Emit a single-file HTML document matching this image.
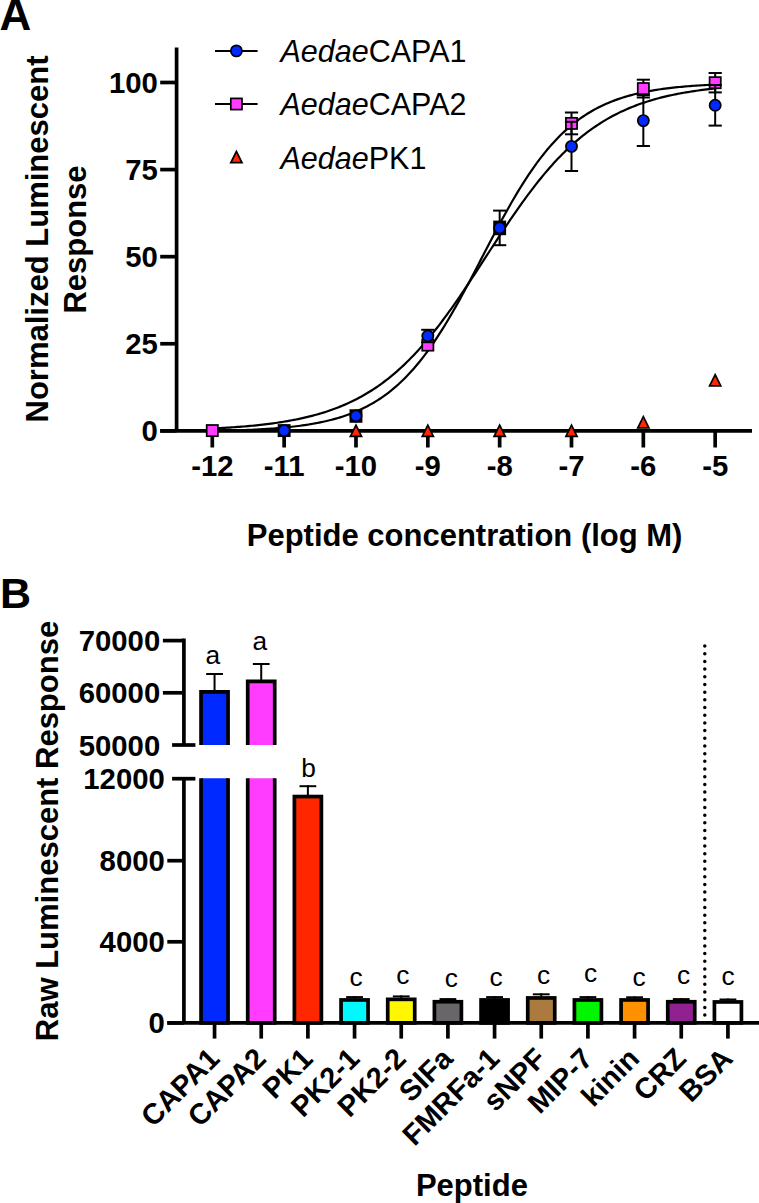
<!DOCTYPE html>
<html><head><meta charset="utf-8"><style>
html,body{margin:0;padding:0;background:#fff;}
body{width:759px;height:1203px;overflow:hidden;}
svg{display:block;}
text{font-family:"Liberation Sans",sans-serif;fill:#000;}
</style></head><body>
<svg width="759" height="1203" viewBox="0 0 759 1203">
<rect width="759" height="1203" fill="#fff"/>
<text x="-0.6" y="29.7" font-size="44" font-weight="bold">A</text>
<line x1="176.6" y1="47.6" x2="176.6" y2="430.85" stroke="#000" stroke-width="3.7"/>
<line x1="160.2" y1="430.85" x2="752" y2="430.85" stroke="#000" stroke-width="3.7"/>
<line x1="160.2" y1="82.49" x2="176.6" y2="82.49" stroke="#000" stroke-width="3.7"/>
<text x="157.8" y="92.99" font-size="29.3" font-weight="bold" text-anchor="end">100</text>
<line x1="160.2" y1="169.58" x2="176.6" y2="169.58" stroke="#000" stroke-width="3.7"/>
<text x="157.8" y="180.08" font-size="29.3" font-weight="bold" text-anchor="end">75</text>
<line x1="160.2" y1="256.67" x2="176.6" y2="256.67" stroke="#000" stroke-width="3.7"/>
<text x="157.8" y="267.17" font-size="29.3" font-weight="bold" text-anchor="end">50</text>
<line x1="160.2" y1="343.76" x2="176.6" y2="343.76" stroke="#000" stroke-width="3.7"/>
<text x="157.8" y="354.26" font-size="29.3" font-weight="bold" text-anchor="end">25</text>
<line x1="160.2" y1="430.85" x2="176.6" y2="430.85" stroke="#000" stroke-width="3.7"/>
<text x="157.8" y="441.35" font-size="29.3" font-weight="bold" text-anchor="end">0</text>
<line x1="212.30" y1="430.85" x2="212.30" y2="447.5" stroke="#000" stroke-width="3.7"/>
<text x="212.30" y="475.9" font-size="29.3" font-weight="bold" text-anchor="middle">-12</text>
<line x1="284.14" y1="430.85" x2="284.14" y2="447.5" stroke="#000" stroke-width="3.7"/>
<text x="284.14" y="475.9" font-size="29.3" font-weight="bold" text-anchor="middle">-11</text>
<line x1="355.98" y1="430.85" x2="355.98" y2="447.5" stroke="#000" stroke-width="3.7"/>
<text x="355.98" y="475.9" font-size="29.3" font-weight="bold" text-anchor="middle">-10</text>
<line x1="427.82" y1="430.85" x2="427.82" y2="447.5" stroke="#000" stroke-width="3.7"/>
<text x="427.82" y="475.9" font-size="29.3" font-weight="bold" text-anchor="middle">-9</text>
<line x1="499.66" y1="430.85" x2="499.66" y2="447.5" stroke="#000" stroke-width="3.7"/>
<text x="499.66" y="475.9" font-size="29.3" font-weight="bold" text-anchor="middle">-8</text>
<line x1="571.50" y1="430.85" x2="571.50" y2="447.5" stroke="#000" stroke-width="3.7"/>
<text x="571.50" y="475.9" font-size="29.3" font-weight="bold" text-anchor="middle">-7</text>
<line x1="643.34" y1="430.85" x2="643.34" y2="447.5" stroke="#000" stroke-width="3.7"/>
<text x="643.34" y="475.9" font-size="29.3" font-weight="bold" text-anchor="middle">-6</text>
<line x1="715.18" y1="430.85" x2="715.18" y2="447.5" stroke="#000" stroke-width="3.7"/>
<text x="715.18" y="475.9" font-size="29.3" font-weight="bold" text-anchor="middle">-5</text>
<text x="464.6" y="545.5" font-size="31" font-weight="bold" text-anchor="middle">Peptide concentration (log M)</text>
<text transform="translate(48,239) rotate(-90)" font-size="31" font-weight="bold" text-anchor="middle">Normalized Luminescent</text>
<text transform="translate(86.4,239.5) rotate(-90)" font-size="31" font-weight="bold" text-anchor="middle">Response</text>
<polyline points="212.30,428.49 214.40,428.38 216.49,428.28 218.59,428.17 220.68,428.05 222.78,427.93 224.87,427.81 226.97,427.68 229.06,427.55 231.16,427.41 233.25,427.27 235.35,427.12 237.44,426.97 239.54,426.81 241.63,426.65 243.73,426.48 245.83,426.30 247.92,426.12 250.02,425.93 252.11,425.73 254.21,425.53 256.30,425.32 258.40,425.10 260.49,424.87 262.59,424.63 264.68,424.39 266.78,424.14 268.87,423.88 270.97,423.60 273.06,423.32 275.16,423.03 277.26,422.73 279.35,422.42 281.45,422.09 283.54,421.76 285.64,421.41 287.73,421.05 289.83,420.68 291.92,420.29 294.02,419.89 296.11,419.48 298.21,419.05 300.30,418.61 302.40,418.15 304.49,417.68 306.59,417.19 308.69,416.68 310.78,416.15 312.88,415.61 314.97,415.05 317.07,414.46 319.16,413.86 321.26,413.24 323.35,412.60 325.45,411.93 327.54,411.25 329.64,410.54 331.73,409.81 333.83,409.05 335.92,408.27 338.02,407.46 340.12,406.62 342.21,405.76 344.31,404.87 346.40,403.96 348.50,403.01 350.59,402.03 352.69,401.03 354.78,399.99 356.88,398.92 358.97,397.82 361.07,396.68 363.16,395.51 365.26,394.30 367.35,393.06 369.45,391.78 371.55,390.47 373.64,389.12 375.74,387.72 377.83,386.29 379.93,384.82 382.02,383.31 384.12,381.76 386.21,380.16 388.31,378.53 390.40,376.85 392.50,375.13 394.59,373.36 396.69,371.55 398.78,369.69 400.88,367.79 402.98,365.84 405.07,363.85 407.17,361.82 409.26,359.73 411.36,357.60 413.45,355.43 415.55,353.21 417.64,350.94 419.74,348.62 421.83,346.27 423.93,343.86 426.02,341.41 428.12,338.92 430.21,336.38 432.31,333.80 434.41,331.18 436.50,328.51 438.60,325.81 440.69,323.06 442.79,320.28 444.88,317.45 446.98,314.59 449.07,311.70 451.17,308.77 453.26,305.81 455.36,302.82 457.45,299.80 459.55,296.75 461.64,293.68 463.74,290.58 465.84,287.46 467.93,284.31 470.03,281.15 472.12,277.98 474.22,274.79 476.31,271.59 478.41,268.37 480.50,265.15 482.60,261.93 484.69,258.70 486.79,255.47 488.88,252.24 490.98,249.01 493.07,245.79 495.17,242.57 497.27,239.37 499.36,236.18 501.46,233.00 503.55,229.84 505.65,226.70 507.74,223.57 509.84,220.47 511.93,217.39 514.03,214.34 516.12,211.32 518.22,208.32 520.31,205.36 522.41,202.42 524.50,199.53 526.60,196.66 528.70,193.84 530.79,191.05 532.89,188.30 534.98,185.59 537.08,182.92 539.17,180.29 541.27,177.70 543.36,175.16 545.46,172.66 547.55,170.21 549.65,167.80 551.74,165.43 553.84,163.11 555.93,160.84 558.03,158.61 560.13,156.43 562.22,154.30 564.32,152.21 566.41,150.16 568.51,148.17 570.60,146.22 572.70,144.31 574.79,142.45 576.89,140.63 578.98,138.86 581.08,137.13 583.17,135.45 585.27,133.81 587.36,132.21 589.46,130.65 591.56,129.13 593.65,127.66 595.75,126.22 597.84,124.82 599.94,123.47 602.03,122.15 604.13,120.86 606.22,119.62 608.32,118.41 610.41,117.23 612.51,116.09 614.60,114.99 616.70,113.91 618.79,112.87 620.89,111.86 622.99,110.88 625.08,109.93 627.18,109.01 629.27,108.12 631.37,107.25 633.46,106.42 635.56,105.61 637.65,104.82 639.75,104.06 641.84,103.32 643.94,102.61 646.03,101.92 648.13,101.26 650.22,100.61 652.32,99.99 654.42,99.38 656.51,98.80 658.61,98.23 660.70,97.69 662.80,97.16 664.89,96.65 666.99,96.16 669.08,95.68 671.18,95.22 673.27,94.78 675.37,94.35 677.46,93.93 679.56,93.53 681.65,93.14 683.75,92.77 685.85,92.41 687.94,92.06 690.04,91.72 692.13,91.40 694.23,91.08 696.32,90.78 698.42,90.49 700.51,90.20 702.61,89.93 704.70,89.67 706.80,89.41 708.89,89.17 710.99,88.93 713.08,88.71 715.18,88.49" fill="none" stroke="#000" stroke-width="2.2"/>
<polyline points="212.30,431.04 214.40,431.00 216.49,430.95 218.59,430.90 220.68,430.86 222.78,430.80 224.87,430.75 226.97,430.69 229.06,430.63 231.16,430.57 233.25,430.51 235.35,430.44 237.44,430.37 239.54,430.30 241.63,430.22 243.73,430.14 245.83,430.05 247.92,429.96 250.02,429.87 252.11,429.77 254.21,429.67 256.30,429.56 258.40,429.45 260.49,429.33 262.59,429.21 264.68,429.08 266.78,428.95 268.87,428.81 270.97,428.66 273.06,428.51 275.16,428.35 277.26,428.18 279.35,428.00 281.45,427.82 283.54,427.62 285.64,427.42 287.73,427.21 289.83,426.99 291.92,426.76 294.02,426.52 296.11,426.26 298.21,426.00 300.30,425.72 302.40,425.44 304.49,425.13 306.59,424.82 308.69,424.49 310.78,424.14 312.88,423.78 314.97,423.41 317.07,423.01 319.16,422.60 321.26,422.17 323.35,421.72 325.45,421.25 327.54,420.76 329.64,420.25 331.73,419.72 333.83,419.16 335.92,418.58 338.02,417.97 340.12,417.34 342.21,416.68 344.31,415.99 346.40,415.27 348.50,414.52 350.59,413.74 352.69,412.93 354.78,412.08 356.88,411.20 358.97,410.27 361.07,409.32 363.16,408.32 365.26,407.28 367.35,406.20 369.45,405.08 371.55,403.91 373.64,402.69 375.74,401.43 377.83,400.12 379.93,398.75 382.02,397.34 384.12,395.87 386.21,394.35 388.31,392.77 390.40,391.13 392.50,389.44 394.59,387.68 396.69,385.87 398.78,383.99 400.88,382.04 402.98,380.03 405.07,377.96 407.17,375.81 409.26,373.60 411.36,371.32 413.45,368.97 415.55,366.55 417.64,364.06 419.74,361.49 421.83,358.86 423.93,356.15 426.02,353.37 428.12,350.52 430.21,347.60 432.31,344.61 434.41,341.55 436.50,338.41 438.60,335.22 440.69,331.95 442.79,328.62 444.88,325.22 446.98,321.77 449.07,318.25 451.17,314.68 453.26,311.05 455.36,307.37 457.45,303.65 459.55,299.87 461.64,296.05 463.74,292.20 465.84,288.31 467.93,284.38 470.03,280.43 472.12,276.45 474.22,272.45 476.31,268.44 478.41,264.42 480.50,260.38 482.60,256.35 484.69,252.31 486.79,248.28 488.88,244.26 490.98,240.25 493.07,236.27 495.17,232.30 497.27,228.36 499.36,224.45 501.46,220.57 503.55,216.73 505.65,212.93 507.74,209.18 509.84,205.47 511.93,201.82 514.03,198.21 516.12,194.67 518.22,191.18 520.31,187.75 522.41,184.38 524.50,181.08 526.60,177.84 528.70,174.67 530.79,171.57 532.89,168.54 534.98,165.58 537.08,162.69 539.17,159.87 541.27,157.13 543.36,154.45 545.46,151.85 547.55,149.32 549.65,146.86 551.74,144.47 553.84,142.15 555.93,139.90 558.03,137.72 560.13,135.60 562.22,133.56 564.32,131.58 566.41,129.66 568.51,127.81 570.60,126.02 572.70,124.29 574.79,122.62 576.89,121.01 578.98,119.46 581.08,117.96 583.17,116.52 585.27,115.13 587.36,113.79 589.46,112.50 591.56,111.25 593.65,110.06 595.75,108.91 597.84,107.81 599.94,106.74 602.03,105.72 604.13,104.74 606.22,103.80 608.32,102.90 610.41,102.03 612.51,101.20 614.60,100.40 616.70,99.63 618.79,98.90 620.89,98.19 622.99,97.52 625.08,96.87 627.18,96.25 629.27,95.65 631.37,95.08 633.46,94.53 635.56,94.01 637.65,93.51 639.75,93.03 641.84,92.57 643.94,92.13 646.03,91.71 648.13,91.30 650.22,90.92 652.32,90.55 654.42,90.19 656.51,89.86 658.61,89.53 660.70,89.22 662.80,88.93 664.89,88.64 666.99,88.37 669.08,88.11 671.18,87.87 673.27,87.63 675.37,87.40 677.46,87.19 679.56,86.98 681.65,86.78 683.75,86.59 685.85,86.41 687.94,86.24 690.04,86.07 692.13,85.92 694.23,85.77 696.32,85.62 698.42,85.48 700.51,85.35 702.61,85.23 704.70,85.11 706.80,84.99 708.89,84.88 710.99,84.78 713.08,84.68 715.18,84.58" fill="none" stroke="#000" stroke-width="2.2"/>
<rect x="277.69" y="424.15" width="12.90" height="12.90" fill="#000"/>
<rect x="349.53" y="409.25" width="12.90" height="13.50" fill="#000"/>
<rect x="493.21" y="220.60" width="12.90" height="14.60" fill="#000"/>
<line x1="571.50" y1="112.50" x2="571.50" y2="134.30" stroke="#000" stroke-width="2"/>
<line x1="564.90" y1="112.50" x2="578.10" y2="112.50" stroke="#000" stroke-width="2"/>
<line x1="564.90" y1="134.30" x2="578.10" y2="134.30" stroke="#000" stroke-width="2"/>
<line x1="643.34" y1="79.70" x2="643.34" y2="97.50" stroke="#000" stroke-width="2"/>
<line x1="636.74" y1="79.70" x2="649.94" y2="79.70" stroke="#000" stroke-width="2"/>
<line x1="636.74" y1="97.50" x2="649.94" y2="97.50" stroke="#000" stroke-width="2"/>
<line x1="715.18" y1="73.00" x2="715.18" y2="92.40" stroke="#000" stroke-width="2"/>
<line x1="708.58" y1="73.00" x2="721.78" y2="73.00" stroke="#000" stroke-width="2"/>
<line x1="708.58" y1="92.40" x2="721.78" y2="92.40" stroke="#000" stroke-width="2"/>
<rect x="206.70" y="425.00" width="11.20" height="11.20" fill="#ff3cff" stroke="#000" stroke-width="1.7"/>
<rect x="422.22" y="339.50" width="11.20" height="11.20" fill="#ff3cff" stroke="#000" stroke-width="1.7"/>
<rect x="565.90" y="117.80" width="11.20" height="11.20" fill="#ff3cff" stroke="#000" stroke-width="1.7"/>
<rect x="637.74" y="83.00" width="11.20" height="11.20" fill="#ff3cff" stroke="#000" stroke-width="1.7"/>
<rect x="709.58" y="77.10" width="11.20" height="11.20" fill="#ff3cff" stroke="#000" stroke-width="1.7"/>
<line x1="427.82" y1="329.80" x2="427.82" y2="342.20" stroke="#000" stroke-width="2"/>
<line x1="421.22" y1="329.80" x2="434.42" y2="329.80" stroke="#000" stroke-width="2"/>
<line x1="421.22" y1="342.20" x2="434.42" y2="342.20" stroke="#000" stroke-width="2"/>
<line x1="499.66" y1="210.60" x2="499.66" y2="245.20" stroke="#000" stroke-width="2"/>
<line x1="493.06" y1="210.60" x2="506.26" y2="210.60" stroke="#000" stroke-width="2"/>
<line x1="493.06" y1="245.20" x2="506.26" y2="245.20" stroke="#000" stroke-width="2"/>
<line x1="571.50" y1="121.80" x2="571.50" y2="171.00" stroke="#000" stroke-width="2"/>
<line x1="564.90" y1="121.80" x2="578.10" y2="121.80" stroke="#000" stroke-width="2"/>
<line x1="564.90" y1="171.00" x2="578.10" y2="171.00" stroke="#000" stroke-width="2"/>
<line x1="643.34" y1="95.20" x2="643.34" y2="146.00" stroke="#000" stroke-width="2"/>
<line x1="636.74" y1="95.20" x2="649.94" y2="95.20" stroke="#000" stroke-width="2"/>
<line x1="636.74" y1="146.00" x2="649.94" y2="146.00" stroke="#000" stroke-width="2"/>
<line x1="715.18" y1="85.00" x2="715.18" y2="125.60" stroke="#000" stroke-width="2"/>
<line x1="708.58" y1="85.00" x2="721.78" y2="85.00" stroke="#000" stroke-width="2"/>
<line x1="708.58" y1="125.60" x2="721.78" y2="125.60" stroke="#000" stroke-width="2"/>
<circle cx="284.14" cy="430.60" r="5.60" fill="#0029ff" stroke="#000" stroke-width="1.7"/>
<circle cx="355.98" cy="416.00" r="5.60" fill="#0029ff" stroke="#000" stroke-width="1.7"/>
<circle cx="427.82" cy="336.00" r="5.60" fill="#0029ff" stroke="#000" stroke-width="1.7"/>
<circle cx="499.66" cy="227.90" r="5.60" fill="#0029ff" stroke="#000" stroke-width="1.7"/>
<circle cx="571.50" cy="146.40" r="5.60" fill="#0029ff" stroke="#000" stroke-width="1.7"/>
<circle cx="643.34" cy="120.60" r="5.60" fill="#0029ff" stroke="#000" stroke-width="1.7"/>
<circle cx="715.18" cy="105.30" r="5.60" fill="#0029ff" stroke="#000" stroke-width="1.7"/>
<polygon points="355.98,425.20 361.58,436.40 350.38,436.40" fill="#ff2600" stroke="#000" stroke-width="1.7" stroke-linejoin="miter"/>
<polygon points="427.82,425.20 433.42,436.40 422.22,436.40" fill="#ff2600" stroke="#000" stroke-width="1.7" stroke-linejoin="miter"/>
<polygon points="499.66,425.20 505.26,436.40 494.06,436.40" fill="#ff2600" stroke="#000" stroke-width="1.7" stroke-linejoin="miter"/>
<polygon points="571.50,425.20 577.10,436.40 565.90,436.40" fill="#ff2600" stroke="#000" stroke-width="1.7" stroke-linejoin="miter"/>
<polygon points="643.34,416.70 648.94,427.90 637.74,427.90" fill="#ff2600" stroke="#000" stroke-width="1.7" stroke-linejoin="miter"/>
<polygon points="715.18,374.70 720.78,385.90 709.58,385.90" fill="#ff2600" stroke="#000" stroke-width="1.7" stroke-linejoin="miter"/>
<line x1="215" y1="50.9" x2="257.6" y2="50.9" stroke="#000" stroke-width="2"/>
<circle cx="236.40" cy="50.90" r="5.60" fill="#0029ff" stroke="#000" stroke-width="1.7"/>
<line x1="215" y1="104" x2="257.6" y2="104" stroke="#000" stroke-width="2"/>
<rect x="230.80" y="98.40" width="11.20" height="11.20" fill="#ff3cff" stroke="#000" stroke-width="1.7"/>
<polygon points="236.40,151.50 242.00,162.70 230.80,162.70" fill="#ff2600" stroke="#000" stroke-width="1.7" stroke-linejoin="miter"/>
<text x="280.5" y="62.1" font-size="30.5"><tspan font-style="italic">Aedae</tspan>CAPA1</text>
<text x="280.5" y="115.3" font-size="30.5"><tspan font-style="italic">Aedae</tspan>CAPA2</text>
<text x="280.5" y="168.5" font-size="30.5"><tspan font-style="italic">Aedae</tspan>PK1</text>
<text x="0" y="607.9" font-size="43" font-weight="bold">B</text>
<line x1="183.9" y1="638.5" x2="183.9" y2="745" stroke="#000" stroke-width="3.7"/>
<line x1="183.9" y1="778.7" x2="183.9" y2="1022.9" stroke="#000" stroke-width="3.7"/>
<line x1="162.9" y1="640.60" x2="183.9" y2="640.60" stroke="#000" stroke-width="3.7"/>
<text x="160.2" y="651.10" font-size="29.3" font-weight="bold" text-anchor="end">70000</text>
<line x1="162.9" y1="692.80" x2="183.9" y2="692.80" stroke="#000" stroke-width="3.7"/>
<text x="160.2" y="703.30" font-size="29.3" font-weight="bold" text-anchor="end">60000</text>
<line x1="172.1" y1="745" x2="195.4" y2="745" stroke="#000" stroke-width="3.7"/>
<text x="160.2" y="755.60" font-size="29.3" font-weight="bold" text-anchor="end">50000</text>
<line x1="172.1" y1="778.7" x2="195.4" y2="778.7" stroke="#000" stroke-width="3.7"/>
<text x="164.8" y="788.70" font-size="29.3" font-weight="bold" text-anchor="end">12000</text>
<line x1="167.3" y1="860.70" x2="183.9" y2="860.70" stroke="#000" stroke-width="3.7"/>
<text x="164.8" y="870.90" font-size="29.3" font-weight="bold" text-anchor="end">8000</text>
<line x1="167.3" y1="941.80" x2="183.9" y2="941.80" stroke="#000" stroke-width="3.7"/>
<text x="164.8" y="952.00" font-size="29.3" font-weight="bold" text-anchor="end">4000</text>
<line x1="167.3" y1="1022.90" x2="183.9" y2="1022.90" stroke="#000" stroke-width="3.7"/>
<text x="164.8" y="1033.10" font-size="29.3" font-weight="bold" text-anchor="end">0</text>
<line x1="214.55" y1="673.00" x2="214.55" y2="691.00" stroke="#000" stroke-width="2"/>
<line x1="206.15" y1="674.00" x2="222.95" y2="674.00" stroke="#000" stroke-width="2"/>
<path d="M201.05,745 V691.85 H228.05 V745" fill="#0029ff" stroke="#000" stroke-width="3.7"/>
<path d="M201.05,778.3 V1022.9 H228.05 V778.3" fill="#0029ff" stroke="#000" stroke-width="3.7"/>
<text x="212.90" y="663.60" font-size="26.3" text-anchor="middle">a</text>
<line x1="214.55" y1="1022.9" x2="214.55" y2="1038.6" stroke="#000" stroke-width="3.7"/>
<text transform="translate(221.05,1060.30) rotate(-45)" font-size="29" font-weight="bold" text-anchor="end">CAPA1</text>
<line x1="261.22" y1="663.00" x2="261.22" y2="680.60" stroke="#000" stroke-width="2"/>
<line x1="252.82" y1="664.00" x2="269.62" y2="664.00" stroke="#000" stroke-width="2"/>
<path d="M247.72,745 V681.45 H274.72 V745" fill="#ff3cff" stroke="#000" stroke-width="3.7"/>
<path d="M247.72,778.3 V1022.9 H274.72 V778.3" fill="#ff3cff" stroke="#000" stroke-width="3.7"/>
<text x="259.70" y="649.60" font-size="26.3" text-anchor="middle">a</text>
<line x1="261.22" y1="1022.9" x2="261.22" y2="1038.6" stroke="#000" stroke-width="3.7"/>
<text transform="translate(267.72,1060.30) rotate(-45)" font-size="29" font-weight="bold" text-anchor="end">CAPA2</text>
<line x1="307.89" y1="785.20" x2="307.89" y2="795.70" stroke="#000" stroke-width="2"/>
<line x1="299.49" y1="786.20" x2="316.29" y2="786.20" stroke="#000" stroke-width="2"/>
<rect x="294.39" y="796.55" width="27.00" height="226.35" fill="#ff2600" stroke="#000" stroke-width="3.7"/>
<text x="308.55" y="777.00" font-size="26.3" text-anchor="middle">b</text>
<line x1="307.89" y1="1022.9" x2="307.89" y2="1038.6" stroke="#000" stroke-width="3.7"/>
<text transform="translate(314.39,1060.30) rotate(-45)" font-size="29" font-weight="bold" text-anchor="end">PK1</text>
<line x1="354.56" y1="996.10" x2="354.56" y2="999.10" stroke="#000" stroke-width="2"/>
<line x1="346.16" y1="997.10" x2="362.96" y2="997.10" stroke="#000" stroke-width="2"/>
<rect x="341.06" y="999.95" width="27.00" height="22.95" fill="#00f8ff" stroke="#000" stroke-width="3.7"/>
<text x="356.05" y="985.70" font-size="26.3" text-anchor="middle">c</text>
<line x1="354.56" y1="1022.9" x2="354.56" y2="1038.6" stroke="#000" stroke-width="3.7"/>
<text transform="translate(361.06,1060.30) rotate(-45)" font-size="29" font-weight="bold" text-anchor="end">PK2-1</text>
<line x1="401.23" y1="995.40" x2="401.23" y2="998.50" stroke="#000" stroke-width="2"/>
<line x1="392.83" y1="996.40" x2="409.63" y2="996.40" stroke="#000" stroke-width="2"/>
<rect x="387.73" y="999.35" width="27.00" height="23.55" fill="#fff700" stroke="#000" stroke-width="3.7"/>
<text x="402.95" y="984.00" font-size="26.3" text-anchor="middle">c</text>
<line x1="401.23" y1="1022.9" x2="401.23" y2="1038.6" stroke="#000" stroke-width="3.7"/>
<text transform="translate(407.73,1060.30) rotate(-45)" font-size="29" font-weight="bold" text-anchor="end">PK2-2</text>
<line x1="447.90" y1="998.10" x2="447.90" y2="1000.90" stroke="#000" stroke-width="2"/>
<line x1="439.50" y1="999.10" x2="456.30" y2="999.10" stroke="#000" stroke-width="2"/>
<rect x="434.40" y="1001.75" width="27.00" height="21.15" fill="#686668" stroke="#000" stroke-width="3.7"/>
<text x="451.45" y="987.30" font-size="26.3" text-anchor="middle">c</text>
<line x1="447.90" y1="1022.9" x2="447.90" y2="1038.6" stroke="#000" stroke-width="3.7"/>
<text transform="translate(454.40,1060.30) rotate(-45)" font-size="29" font-weight="bold" text-anchor="end">SIFa</text>
<line x1="494.57" y1="996.10" x2="494.57" y2="999.10" stroke="#000" stroke-width="2"/>
<line x1="486.17" y1="997.10" x2="502.97" y2="997.10" stroke="#000" stroke-width="2"/>
<rect x="481.07" y="999.95" width="27.00" height="22.95" fill="#000000" stroke="#000" stroke-width="3.7"/>
<text x="496.05" y="985.50" font-size="26.3" text-anchor="middle">c</text>
<line x1="494.57" y1="1022.9" x2="494.57" y2="1038.6" stroke="#000" stroke-width="3.7"/>
<text transform="translate(501.07,1060.30) rotate(-45)" font-size="29" font-weight="bold" text-anchor="end">FMRFa-1</text>
<line x1="541.24" y1="993.30" x2="541.24" y2="997.10" stroke="#000" stroke-width="2"/>
<line x1="532.84" y1="994.30" x2="549.64" y2="994.30" stroke="#000" stroke-width="2"/>
<rect x="527.74" y="997.95" width="27.00" height="24.95" fill="#aa7a3e" stroke="#000" stroke-width="3.7"/>
<text x="543.50" y="984.20" font-size="26.3" text-anchor="middle">c</text>
<line x1="541.24" y1="1022.9" x2="541.24" y2="1038.6" stroke="#000" stroke-width="3.7"/>
<text transform="translate(547.74,1060.30) rotate(-45)" font-size="29" font-weight="bold" text-anchor="end">sNPF</text>
<line x1="587.91" y1="996.10" x2="587.91" y2="999.10" stroke="#000" stroke-width="2"/>
<line x1="579.51" y1="997.10" x2="596.31" y2="997.10" stroke="#000" stroke-width="2"/>
<rect x="574.41" y="999.95" width="27.00" height="22.95" fill="#00f500" stroke="#000" stroke-width="3.7"/>
<text x="590.60" y="981.80" font-size="26.3" text-anchor="middle">c</text>
<line x1="587.91" y1="1022.9" x2="587.91" y2="1038.6" stroke="#000" stroke-width="3.7"/>
<text transform="translate(594.41,1060.30) rotate(-45)" font-size="29" font-weight="bold" text-anchor="end">MIP-7</text>
<line x1="634.58" y1="996.30" x2="634.58" y2="999.10" stroke="#000" stroke-width="2"/>
<line x1="626.18" y1="997.30" x2="642.98" y2="997.30" stroke="#000" stroke-width="2"/>
<rect x="621.08" y="999.95" width="27.00" height="22.95" fill="#ff9100" stroke="#000" stroke-width="3.7"/>
<text x="639.05" y="985.80" font-size="26.3" text-anchor="middle">c</text>
<line x1="634.58" y1="1022.9" x2="634.58" y2="1038.6" stroke="#000" stroke-width="3.7"/>
<text transform="translate(641.08,1060.30) rotate(-45)" font-size="29" font-weight="bold" text-anchor="end">kinin</text>
<line x1="681.25" y1="998.10" x2="681.25" y2="1000.90" stroke="#000" stroke-width="2"/>
<line x1="672.85" y1="999.10" x2="689.65" y2="999.10" stroke="#000" stroke-width="2"/>
<rect x="667.75" y="1001.75" width="27.00" height="21.15" fill="#912090" stroke="#000" stroke-width="3.7"/>
<text x="683.65" y="984.20" font-size="26.3" text-anchor="middle">c</text>
<line x1="681.25" y1="1022.9" x2="681.25" y2="1038.6" stroke="#000" stroke-width="3.7"/>
<text transform="translate(687.75,1060.30) rotate(-45)" font-size="29" font-weight="bold" text-anchor="end">CRZ</text>
<line x1="727.92" y1="998.50" x2="727.92" y2="1001.10" stroke="#000" stroke-width="2"/>
<line x1="719.52" y1="999.50" x2="736.32" y2="999.50" stroke="#000" stroke-width="2"/>
<rect x="714.42" y="1001.95" width="27.00" height="20.95" fill="#ffffff" stroke="#000" stroke-width="3.7"/>
<text x="728.00" y="985.30" font-size="26.3" text-anchor="middle">c</text>
<line x1="727.92" y1="1022.9" x2="727.92" y2="1038.6" stroke="#000" stroke-width="3.7"/>
<text transform="translate(734.42,1060.30) rotate(-45)" font-size="29" font-weight="bold" text-anchor="end">BSA</text>
<line x1="167.3" y1="1022.9" x2="759" y2="1022.9" stroke="#000" stroke-width="3.7"/>
<line x1="704.8" y1="646" x2="704.8" y2="1016" stroke="#000" stroke-width="3.5" stroke-linecap="round" stroke-dasharray="0 7.69"/>
<text transform="translate(58.2,831) rotate(-90)" font-size="31" font-weight="bold" text-anchor="middle">Raw Luminescent Response</text>
<text x="471.9" y="1196" font-size="31" font-weight="bold" text-anchor="middle">Peptide</text>
</svg>
</body></html>
